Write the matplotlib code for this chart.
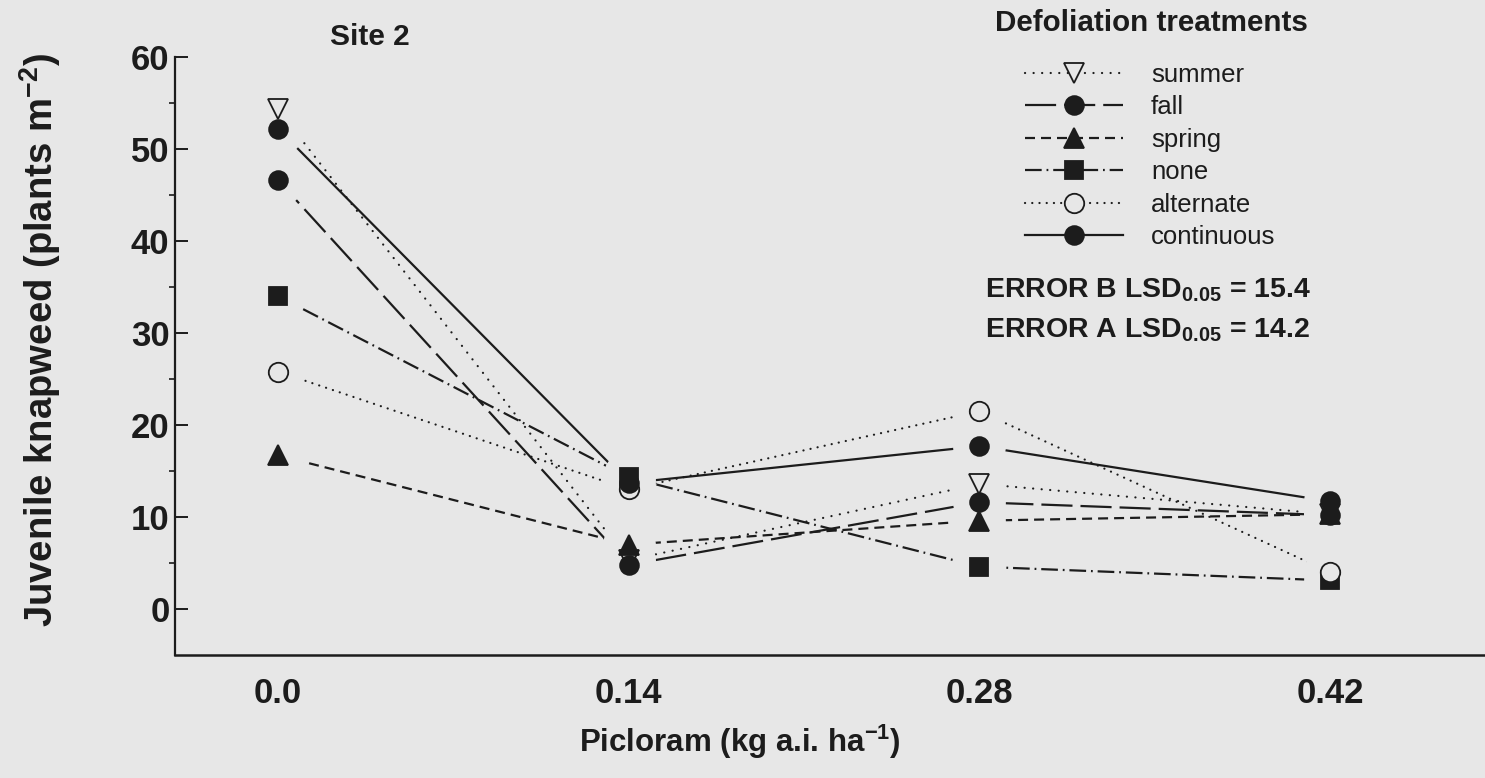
import numpy as np
import matplotlib.pyplot as plt
from matplotlib.ticker import FixedLocator

plt.rcParams['font.family'] = ['Liberation Sans', 'DejaVu Sans']
plt.rcParams['mathtext.fontset'] = 'custom'
plt.rcParams['mathtext.rm'] = 'Liberation Sans:bold'
plt.rcParams['mathtext.bf'] = 'Liberation Sans:bold'
plt.rcParams['mathtext.it'] = 'Liberation Sans:bold'
plt.rcParams['mathtext.default'] = 'bf'

# picloram rates (tick labels) and the six defoliation treatments
doses = ['0.0', '0.14', '0.28', '0.42']
treatments = ['summer', 'fall', 'spring', 'none', 'alternate', 'continuous']

# juvenile knapweed density, plants m-2
summer = [54.3, 5.3, 13.6, 10.3]
fall = [46.6, 4.8, 11.6, 10.2]
spring = [16.7, 7.0, 9.6, 10.3]
none = [34.0, 14.3, 4.6, 3.1]
alternate = [25.8, 13.0, 21.5, 4.0]
continuous = [52.2, 13.7, 17.7, 11.7]

series = [summer, fall, spring, none, alternate, continuous]

bg = '#e7e7e7'
ink = '#1c1c1c'

# look of each treatment line
markers = ['v', 'o', '^', 's', 'o', 'o']
filled = [False, True, True, True, False, True]
dash_list = [(0.05, 3.8), (14, 3.6), (4.5, 2.7), (7.5, 2.2, 0.8, 2.2), (0.05, 3.2), None]
caps = ['round', 'butt', 'butt', 'butt', 'round', 'butt']
msizes = [14, 13.5, 14, 13, 14, 13.5]

fig = plt.figure(figsize=(14.85, 7.78), dpi=100, facecolor=bg)
ax = fig.add_axes([175 / 1485, 1 - 655 / 778, 1 - 175 / 1485, (655 - 57) / 778])
ax.set_facecolor(bg)

x = np.arange(len(doses))
lw = 1.6

for name, y, m, f, d, c, ms in zip(treatments, series, markers, filled, dash_list, caps, msizes):
    fc = ink if f else bg
    ln, = ax.plot(x, y, color=ink, lw=lw, marker=m, ms=ms, mfc=fc, mec=ink,
                  mew=1.3, label=name, zorder=2, dash_capstyle=c)
    if d is not None:
        ln.set_dashes(d)

# clear a gap around every point so the lines stop short of the symbols
for y in series:
    ax.plot(x, y, ls='none', marker='o', ms=38, mfc=bg, mec='none', zorder=3)

for y, m, f, ms in zip(series, markers, filled, msizes):
    fc = ink if f else bg
    ax.plot(x, y, ls='none', marker=m, ms=ms, mfc=fc, mec=ink, mew=1.3, zorder=4)

ax.set_xlim(-0.294, 3.442)
ax.set_ylim(-5, 60)

ax.spines['top'].set_visible(False)
ax.spines['right'].set_visible(False)
ax.spines['left'].set_bounds(-5, 60)
ax.spines['left'].set_linewidth(1.6)
ax.spines['bottom'].set_linewidth(1.8)
ax.spines['left'].set_color(ink)
ax.spines['bottom'].set_color(ink)

ax.set_xticks(x)
ax.set_xticklabels(doses)
ax.set_yticks(np.arange(0, 61, 10))
ax.yaxis.set_minor_locator(FixedLocator(np.arange(5, 60, 10)))
ax.tick_params(axis='x', length=0, pad=16, labelsize=25, labelcolor=ink)
ax.tick_params(axis='y', which='major', direction='in', length=9, width=1.4,
               color=ink, pad=4, labelsize=25, labelcolor=ink)
ax.tick_params(axis='y', which='minor', direction='out', length=4, width=1.2, color=ink)
for lab in ax.get_xticklabels() + ax.get_yticklabels():
    lab.set_fontweight('bold')

fig.text(40 / 1485, 1 - 340 / 778, r'Juvenile knapweed (plants m$^{-2}$)',
         rotation=90, ha='center', va='center', fontsize=27.5, fontweight='bold', color=ink)
fig.text(740 / 1485, 1 - 742 / 778, r'Picloram (kg a.i. ha$^{-1}$)',
         ha='center', va='center', fontsize=22.5, fontweight='bold', color=ink)
fig.text(370 / 1485, 1 - 37 / 778, 'Site 2', ha='center', va='center',
         fontsize=21.5, fontweight='bold', color=ink)

fig.text(1151 / 1485, 1 - 23 / 778, 'Defoliation treatments', ha='center', va='center',
         fontsize=21.3, fontweight='bold', color=ink)
leg = ax.legend(loc='upper left', bbox_to_anchor=(1025 / 1485, 1 - 63 / 778),
                bbox_transform=fig.transFigure, frameon=False, fontsize=18.5,
                handlelength=3.8, handletextpad=1.1, labelspacing=0.33,
                borderpad=0, borderaxespad=0, numpoints=1)
for t in leg.get_texts():
    t.set_color(ink)

fig.text(985 / 1485, 1 - 290 / 778, r'ERROR B LSD$_{0.05}$ = 15.4', ha='left', va='center',
         fontsize=20.5, fontweight='bold', color=ink)
fig.text(985 / 1485, 1 - 330 / 778, r'ERROR A LSD$_{0.05}$ = 14.2', ha='left', va='center',
         fontsize=20.5, fontweight='bold', color=ink)

fig.savefig('out.png', dpi=100, facecolor=bg)
